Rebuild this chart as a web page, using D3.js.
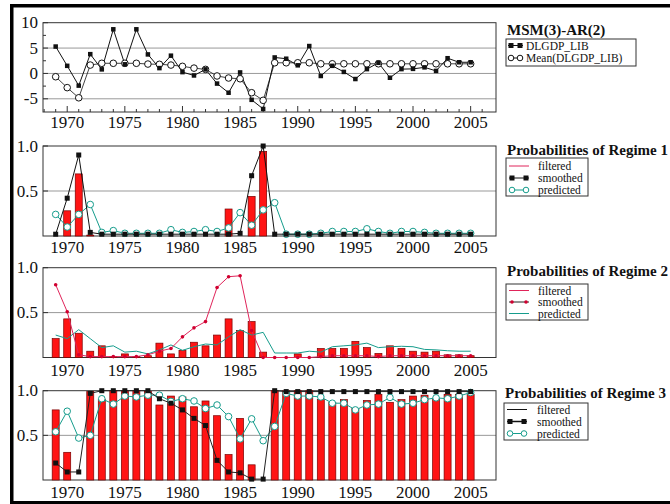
<!DOCTYPE html>
<html><head><meta charset="utf-8">
<script src="https://cdn.jsdelivr.net/npm/d3@7"></script>
<style>body{margin:0;background:#fff} svg{display:block} text{font-family:"Liberation Serif","Times New Roman",serif;fill:#111}</style>
</head><body><svg id="c" width="670" height="504"></svg>
<script>
const years = d3.range(1969, 2006);
const xTickYears = [1970, 1975, 1980, 1985, 1990, 1995, 2000, 2005];

const dlgdp = [5.3,1.5,-2.4,3.8,0.8,8.7,1.8,8.7,3.75,1.05,3.5,0.26,-0.4,0.8,-2.0,-3.8,0.2,-5.2,-7.0,3.15,2.9,1.6,5.4,-0.5,1.5,0.3,-1.1,0.85,2.1,-0.85,0.85,0.9,1.2,0.5,3.0,2.2,2.2];
const meanDl = [-0.65,-2.8,-4.8,1.65,2.0,2.0,2.0,2.0,1.85,1.8,1.65,1.4,1.05,0.8,-0.5,-0.9,-1.05,-3.8,-5.3,2.1,2.1,2.1,2.1,1.9,1.9,1.9,1.9,1.9,1.9,1.9,1.9,1.9,1.9,1.9,1.9,1.9,1.9];

const filt1 = [0,0.28,0.69,0.01,0,0,0,0,0,0,0,0,0,0,0,0.30,0,0.44,0.94,0,0,0,0,0,0,0,0,0,0,0,0,0,0,0,0,0,0];
const smooth1 = [0.02,0.42,0.90,0.04,0.02,0.02,0.02,0.02,0.02,0.02,0.02,0.02,0.02,0.02,0.02,0.02,0.03,0.67,1.0,0.02,0.02,0.02,0.02,0.02,0.02,0.02,0.02,0.02,0.02,0.02,0.02,0.02,0.02,0.02,0.02,0.02,0.02];
const pred1 = [0.24,0.10,0.24,0.35,0.04,0.06,0.03,0.03,0.03,0.03,0.07,0.04,0.05,0.07,0.05,0.09,0.26,0.12,0.29,0.37,0.02,0.02,0.02,0.03,0.05,0.05,0.05,0.08,0.05,0.03,0.05,0.05,0.04,0.03,0.03,0.03,0.03];

const filt2 = [0.21,0.43,0.27,0.07,0.13,0.01,0.04,0.01,0.02,0.16,0.04,0.08,0.17,0.13,0.25,0.43,0.30,0.40,0.06,0,0,0.04,0,0.10,0.10,0.10,0.18,0.11,0.045,0.13,0.10,0.07,0.06,0.07,0.03,0.03,0.02];
const smooth2 = [0.81,0.51,0.03,0.01,0.01,0.01,0.01,0.01,0.03,0.07,0.10,0.23,0.33,0.40,0.78,0.90,0.91,0.30,0.0,0.0,0.0,0.0,0.0,0.01,0.02,0.02,0.02,0.02,0.01,0.02,0.02,0.02,0.02,0.02,0.02,0.02,0.02];
const pred2 = [0.25,0.21,0.31,0.21,0.11,0.13,0.06,0.07,0.04,0.085,0.14,0.08,0.12,0.15,0.14,0.23,0.31,0.25,0.28,0.05,0.05,0.05,0.07,0.06,0.12,0.13,0.14,0.16,0.11,0.12,0.125,0.12,0.09,0.085,0.075,0.07,0.07];

const filt3 = [0.785,0.31,0,0.99,0.90,1.0,1.0,1.0,0.99,0.84,0.94,0.93,0.82,0.885,0.72,0.285,0.69,0.17,0,1.0,1.0,1.0,1.0,0.90,0.87,0.90,0.80,0.89,0.96,0.87,0.90,0.94,0.95,0.915,0.96,0.96,0.96];
const smooth3 = [0.19,0.09,0.09,0.97,1,1,1,1,1,0.91,0.86,0.785,0.69,0.61,0.22,0.09,0.08,0.01,0.01,1,0.99,0.99,0.99,0.99,0.99,0.99,0.99,0.99,0.99,0.99,0.99,0.99,0.99,0.99,0.99,0.99,0.99];
const pred3 = [0.54,0.77,0.47,0.50,0.91,0.85,0.94,0.93,0.95,0.95,0.88,0.91,0.885,0.80,0.84,0.71,0.46,0.685,0.44,0.60,0.97,0.94,0.94,0.93,0.86,0.86,0.785,0.84,0.85,0.925,0.85,0.86,0.90,0.92,0.91,0.94,0.98];

const titles = ["MSM(3)-AR(2)", "Probabilities of Regime 1", "Probabilities of Regime 2", "Probabilities of Regime 3"];
const legend1 = ["DLGDP_LIB", "Mean(DLGDP_LIB)"];
const legendP = ["filtered", "smoothed", "predicted"];

const RED = "#ff1414", TEAL = "#159c8c", PINK = "#e0245a";
const svg = d3.select("#c");

// outer frame
svg.append("rect").attr("x",10).attr("y",4).attr("width",660).attr("height",3.5).attr("fill","#000");
svg.append("rect").attr("x",10).attr("y",4).attr("width",3.5).attr("height",500).attr("fill","#000");
svg.append("rect").attr("x",10).attr("y",501).attr("width",660).attr("height",3).attr("fill","#000");

const x = d3.scaleLinear().domain([1967.9, 2007.2]).range([43, 496]);

function frame(y, yTicks, yLabels, grid, labelBaseline, minorTicks) {
  const g = svg.append("g");
  grid.forEach(v => g.append("line").attr("x1",x.range()[0]).attr("x2",x.range()[1])
    .attr("y1",y(v)).attr("y2",y(v)).attr("stroke","#999").attr("stroke-width",1));
  g.append("rect").attr("x",x.range()[0]).attr("y",y.range()[1]).attr("width",x.range()[1]-x.range()[0])
    .attr("height",y.range()[0]-y.range()[1]).attr("fill","none").attr("stroke","#333").attr("stroke-width",1);
  yTicks.forEach((v,i) => {
    g.append("text").attr("x",38).attr("y",y(v)+5.5).attr("text-anchor","end").attr("font-size",17).text(yLabels[i]);
    g.append("line").attr("x1",x.range()[0]).attr("x2",x.range()[0]+5).attr("y1",y(v)).attr("y2",y(v)).attr("stroke","#333");
  });
  if (minorTicks) {
    minorTicks.forEach(v => g.append("line").attr("x1",x.range()[0]).attr("x2",x.range()[0]+3).attr("y1",y(v)).attr("y2",y(v)).attr("stroke","#333"));
    d3.range(1968, 2007).forEach(yr => g.append("line").attr("x1",x(yr)).attr("x2",x(yr))
      .attr("y1",y.range()[0]).attr("y2",y.range()[0]-(yr%5===0?6:3)).attr("stroke","#333"));
  }
  xTickYears.forEach(yr => g.append("text").attr("x",x(yr)).attr("y",labelBaseline).attr("text-anchor","middle").attr("font-size",17).text(yr));
  return g;
}

function lineOf(g, y, vals, color, w) {
  const line = d3.line().x((d,i)=>x(years[i])).y(d=>y(d));
  g.append("path").datum(vals).attr("d",line).attr("fill","none").attr("stroke",color).attr("stroke-width",w);
}
function squares(g, y, vals, s) {
  g.selectAll(null).data(vals).enter().append("rect")
    .attr("x",(d,i)=>x(years[i])-s/2).attr("y",d=>y(d)-s/2).attr("width",s).attr("height",s).attr("fill","#111");
}
function circles(g, y, vals, r, color) {
  g.selectAll(null).data(vals).enter().append("circle")
    .attr("cx",(d,i)=>x(years[i])).attr("cy",d=>y(d)).attr("r",r).attr("fill","#fff").attr("stroke",color).attr("stroke-width",1);
}
function dots(g, y, vals, r, color) {
  g.selectAll(null).data(vals).enter().append("circle")
    .attr("cx",(d,i)=>x(years[i])).attr("cy",d=>y(d)).attr("r",r).attr("fill",color);
}
function bars(g, y, vals) {
  g.selectAll(null).data(vals).enter().append("rect")
    .attr("x",(d,i)=>x(years[i])-3.5).attr("y",d=>y(d)).attr("width",7).attr("height",d=>Math.max(0,y(0)-y(d)))
    .attr("fill",RED).attr("stroke","#7a0000").attr("stroke-width",0.7);
}

function legendBox(bx, by, bw, bh, title, titleY, rows, sx0, sx1) {
  svg.append("text").attr("x",bx+1).attr("y",titleY).attr("font-size",15).attr("font-weight","bold").text(title);
  svg.append("rect").attr("x",bx).attr("y",by).attr("width",bw).attr("height",bh).attr("fill","#fff").attr("stroke","#333");
  rows.forEach(r => {
    const g = svg.append("g");
    g.append("line").attr("x1",sx0).attr("x2",sx1).attr("y1",r.y).attr("y2",r.y).attr("stroke",r.color).attr("stroke-width",r.w||1);
    [sx0+3, sx1-3].forEach(cx => {
      if (r.m==="sq") g.append("rect").attr("x",cx-2.5).attr("y",r.y-2.5).attr("width",5).attr("height",5).attr("fill","#111");
      if (r.m==="ci") g.append("circle").attr("cx",cx).attr("cy",r.y).attr("r",2.8).attr("fill","#fff").attr("stroke",r.mc||r.color);
      if (r.m==="dot") g.append("circle").attr("cx",cx).attr("cy",r.y).attr("r",1.8).attr("fill","#d00030");
    });
    g.append("text").attr("x",r.tx).attr("y",r.y+4).attr("font-size",11.5).text(r.label);
  });
}

// Panel 1
{
  const y = d3.scaleLinear().domain([-7.6, 10]).range([112, 22.7]);
  const g = frame(y, [10,5,0,-5], ["10","5","0","-5"], [5,0,-5], 128, [7.5,2.5,-2.5]);
  lineOf(g, y, dlgdp, "#111", 1);
  lineOf(g, y, meanDl, "#111", 0.8);
  circles(g, y, meanDl, 3.3, "#111");
  squares(g, y, dlgdp, 4.5);
  legendBox(506, 39, 130, 27, titles[0], 35, [
    {y:45.5, color:"#111", m:"sq", label:legend1[0], tx:526},
    {y:58, color:"#111", m:"ci", label:legend1[1], tx:526}
  ], 508, 523);
}
// Panel 2
{
  const y = d3.scaleLinear().domain([0,1]).range([236, 146]);
  const g = frame(y, [1,0.5], ["1.0","0.5"], [0.5], 253, null);
  bars(g, y, filt1);
  lineOf(g, y, pred1, TEAL, 1);
  circles(g, y, pred1, 3.3, TEAL);
  lineOf(g, y, smooth1, "#111", 1);
  squares(g, y, smooth1, 5);
  legendBox(506, 158, 82, 38, titles[1], 155, [
    {y:166, color:PINK, label:legendP[0], tx:538},
    {y:178, color:"#111", m:"sq", label:legendP[1], tx:538},
    {y:190, color:TEAL, m:"ci", label:legendP[2], tx:538}
  ], 509, 529);
}
// Panel 3
{
  const y = d3.scaleLinear().domain([0,1]).range([357.5, 267.7]);
  const g = frame(y, [1,0.5], ["1.0","0.5"], [0.5], 375.5, null);
  bars(g, y, filt2);
  lineOf(g, y, pred2, TEAL, 1);
  lineOf(g, y, smooth2, PINK, 1);
  dots(g, y, smooth2, 1.8, "#d00030");
  legendBox(506, 284, 82, 36, titles[2], 276, [
    {y:290.5, color:PINK, label:legendP[0], tx:538},
    {y:302, color:"#222", m:"dot", label:legendP[1], tx:538},
    {y:313.5, color:TEAL, label:legendP[2], tx:538}
  ], 509, 529);
}
// Panel 4
{
  const y = d3.scaleLinear().domain([0,1]).range([480, 390.7]);
  const g = frame(y, [1,0.5], ["1.0","0.5"], [0.5], 498, null);
  bars(g, y, filt3);
  lineOf(g, y, pred3, TEAL, 1);
  circles(g, y, pred3, 3.3, TEAL);
  lineOf(g, y, smooth3, "#222", 1);
  squares(g, y, smooth3, 5);
  legendBox(504, 403, 84, 37, titles[3], 398, [
    {y:409.5, color:"#111", label:legendP[0], tx:537},
    {y:421.5, color:"#111", m:"sq", w:1.5, label:legendP[1], tx:537},
    {y:433.5, color:TEAL, m:"ci", label:legendP[2], tx:537}
  ], 507, 527);
}
</script>
</body></html>
